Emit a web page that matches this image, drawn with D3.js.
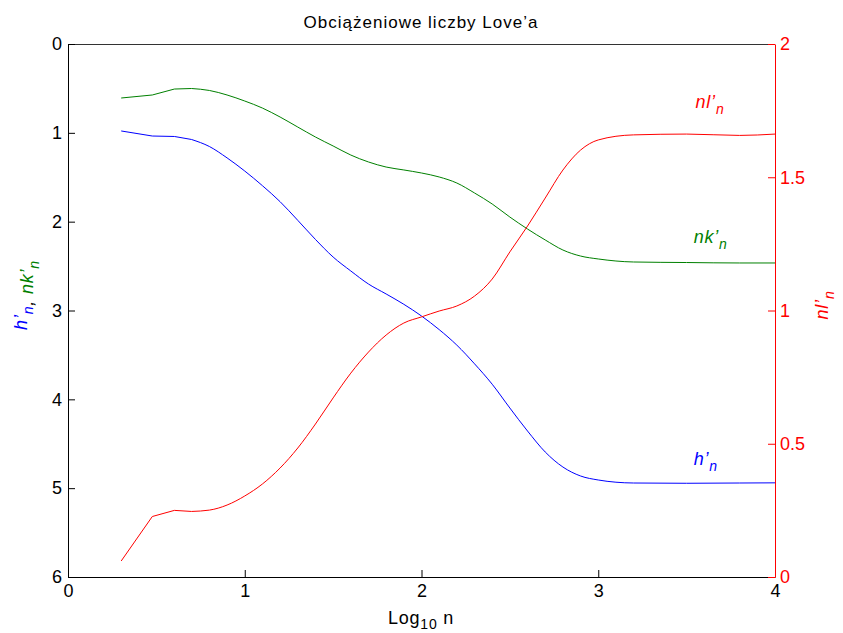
<!DOCTYPE html>
<html>
<head>
<meta charset="utf-8">
<script src="https://cdn.jsdelivr.net/npm/d3@7"></script>
<style>
  body { margin: 0; background: #fff; }
  text { font-family: 'Liberation Sans', Arial, sans-serif; }
</style>
</head>
<body>
<div id="chart"></div>
<script>
// log10 n sample positions
var logN = [0.301, 0.477, 0.602, 0.699, 0.8, 0.9, 1.0, 1.1, 1.2, 1.3, 1.4, 1.5,
  1.6, 1.7, 1.8, 1.9, 2.0, 2.1, 2.2, 2.3, 2.4, 2.5, 2.6, 2.7, 2.8, 2.9, 3.0,
  3.2, 3.5, 3.8, 4.0]

// h'_n (left axis)
var hN = [0.979, 1.036, 1.041, 1.075, 1.154, 1.282, 1.43, 1.595, 1.775, 1.985,
  2.2, 2.398, 2.555, 2.702, 2.814, 2.93, 3.062, 3.215, 3.39, 3.6, 3.83,
  4.098, 4.357, 4.593, 4.762, 4.863, 4.908, 4.942, 4.945, 4.942, 4.94]

// nk'_n (left axis)
var nkN = [0.608, 0.574, 0.507, 0.501, 0.523, 0.574, 0.642, 0.721, 0.822, 0.935,
  1.047, 1.148, 1.25, 1.328, 1.385, 1.418, 1.452, 1.497, 1.565, 1.677, 1.801,
  1.948, 2.083, 2.206, 2.319, 2.387, 2.42, 2.454, 2.46, 2.465, 2.465]

// nl'_n (right axis)
var nlN = [0.06, 0.227, 0.25, 0.246, 0.251, 0.27, 0.304, 0.349, 0.409, 0.484,
  0.574, 0.672, 0.765, 0.844, 0.908, 0.953, 0.976, 0.998, 1.017, 1.054, 1.118,
  1.22, 1.317, 1.422, 1.527, 1.602, 1.64, 1.659, 1.662, 1.657, 1.662]

var xTicks = [0, 1, 2, 3, 4]
var leftTicks = [0, 1, 2, 3, 4, 5, 6]
var rightTicks = [0, 0.5, 1, 1.5, 2]

var margin = { top: 44, left: 68, right: 68, bottom: 56 }
var width = 843 - margin.left - margin.right
var height = 633 - margin.top - margin.bottom
var font = "'Liberation Sans', Arial, sans-serif"

var svg = d3
  .select('#chart')
  .append('svg')
  .attr('width', 843)
  .attr('height', 633)

var g = svg
  .append('g')
  .attr('transform', 'translate(' + margin.left + ',' + margin.top + ')')

var xScale = d3.scaleLinear().domain([0, 4]).range([0, width])
var yLeft = d3.scaleLinear().domain([0, 6]).range([0, height])
var yRight = d3.scaleLinear().domain([0, 2]).range([height, 0])

// first points (n = 2..5) are joined by straight segments, the rest is smooth
function drawSeries(vals, yScale, color) {
  var pts = vals.map((d, i) => [xScale(logN[i]), yScale(d)])
  g.append('path')
    .datum(pts.slice(0, 4))
    .attr('d', d3.line())
    .attr('fill', 'none')
    .attr('stroke', color)
  g.append('path')
    .datum(pts.slice(3))
    .attr('d', d3.line().curve(d3.curveMonotoneX))
    .attr('fill', 'none')
    .attr('stroke', color)
}

// top border
g.append('line')
  .attr('x1', 0).attr('x2', width)
  .attr('y1', 0.5).attr('y2', 0.5)
  .attr('stroke', '#333')

// axes
var xAxis = g
  .append('g')
  .attr('transform', 'translate(0,' + height + ')')
  .call(d3.axisBottom(xScale).tickValues(xTicks).tickFormat(d3.format('d'))
    .tickSizeInner(-7).tickSizeOuter(0).tickPadding(7))

var leftAxis = g
  .append('g')
  .call(d3.axisLeft(yLeft).tickValues(leftTicks).tickFormat(d3.format('d'))
    .tickSizeInner(-7).tickSizeOuter(0).tickPadding(6))

var rightAxis = g
  .append('g')
  .attr('transform', 'translate(' + width + ',0)')
  .call(d3.axisRight(yRight).tickValues(rightTicks).tickFormat(d3.format(''))
    .tickSizeInner(-7).tickSizeOuter(0).tickPadding(5))

;[xAxis, leftAxis].forEach(a => {
  a.selectAll('text').attr('font-size', 18).attr('fill', '#000').style('font-family', font)
  a.selectAll('line, path').attr('stroke', '#000')
})
rightAxis.selectAll('text').attr('font-size', 18).attr('fill', '#f00').style('font-family', font)
rightAxis.selectAll('line, path').attr('stroke', '#f00')

// data lines
drawSeries(nkN, yLeft, '#008000')
drawSeries(hN, yLeft, '#0000ff')
drawSeries(nlN, yRight, '#ff0000')

// title
svg.append('text')
  .attr('x', 421)
  .attr('y', 28)
  .attr('text-anchor', 'middle')
  .attr('font-size', 17)
  .attr('letter-spacing', 1)
  .text('Obciążeniowe liczby Love’a')

// x label
var xl = svg.append('text')
  .attr('x', 421)
  .attr('y', 624)
  .attr('text-anchor', 'middle')
  .attr('font-size', 18)
  .attr('letter-spacing', 0.8)
xl.append('tspan').text('Log')
xl.append('tspan').attr('font-size', 14).attr('dy', 5).text('10')
xl.append('tspan').attr('dy', -5).text(' n')

// helper for primed labels with subscript n
function primed(sel, base, color) {
  sel.append('tspan').attr('fill', color).text(base + '’')
  sel.append('tspan').attr('fill', color).attr('font-size', 14).attr('dy', 6).text('n')
  sel.append('tspan').attr('dy', -6).text('')
}

// left y label
var yl = svg.append('text')
  .attr('transform', 'translate(27,295) rotate(-90)')
  .attr('text-anchor', 'middle')
  .attr('font-size', 18)
  .attr('font-style', 'italic')
  .attr('letter-spacing', 0.8)
primed(yl, 'h', '#0000ff')
yl.append('tspan').attr('fill', '#000').text(', ')
primed(yl, 'nk', '#008000')

// right y label
var yr = svg.append('text')
  .attr('transform', 'translate(828,305) rotate(-90)')
  .attr('text-anchor', 'middle')
  .attr('font-size', 18)
  .attr('font-style', 'italic')
  .attr('letter-spacing', 0.8)
primed(yr, 'nl', '#ff0000')

// in-plot labels
var lab1 = g.append('text')
  .attr('x', xScale(3.55)).attr('y', yRight(1.76))
  .attr('font-size', 18).attr('font-style', 'italic').attr('letter-spacing', 0.8)
primed(lab1, 'nl', '#ff0000')

var lab2 = g.append('text')
  .attr('x', xScale(3.54)).attr('y', yLeft(2.24))
  .attr('font-size', 18).attr('font-style', 'italic').attr('letter-spacing', 0.8)
primed(lab2, 'nk', '#008000')

var lab3 = g.append('text')
  .attr('x', xScale(3.54)).attr('y', yLeft(4.74))
  .attr('font-size', 18).attr('font-style', 'italic').attr('letter-spacing', 0.8)
primed(lab3, 'h', '#0000ff')
</script>
</body>
</html>
